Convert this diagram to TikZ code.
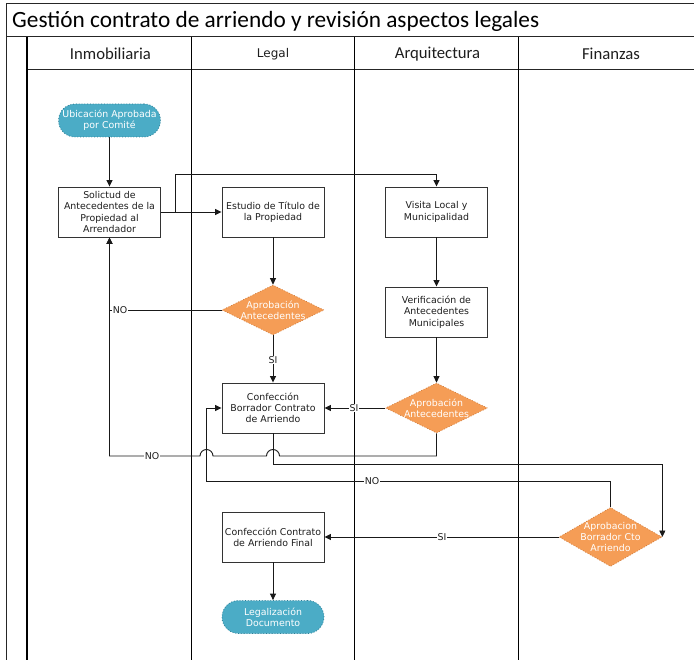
\documentclass[tikz,border=0pt]{standalone}
\usepackage{fontspec}
\setmainfont{DejaVu Sans}
\newfontfamily\headfont{Carlito}
\usetikzlibrary{shapes.geometric,arrows.meta}
\definecolor{termfill}{HTML}{4BACC6}
\definecolor{termedge}{HTML}{2E7E95}
\definecolor{decfill}{HTML}{F59D56}
\definecolor{decedge}{HTML}{C97434}
\definecolor{ink}{HTML}{1E1E1E}
\begin{document}
\begin{tikzpicture}[x=1pt,y=-1pt,
  frame/.style={draw=black!85, line width=1pt},
  lane/.style={draw=black, line width=1.1pt},
  boxfont/.style={font=\fontsize{9.4}{11.3}\selectfont},
  proc/.style={rectangle, draw=black!80, line width=0.9pt, fill=white,
    minimum width=102pt, minimum height=50pt, inner sep=1pt,
    align=center, boxfont, text=ink},
  term/.style={rectangle, rounded corners=16.5pt, draw=termedge, dotted,
    line width=0.8pt, fill=termfill, minimum width=102pt, minimum height=33pt,
    inner sep=1pt, align=center, boxfont, text=white},
  dec/.style={diamond, draw=decedge, dotted, line width=0.7pt, fill=decfill,
    minimum width=102pt, minimum height=50pt, inner sep=0pt},
  dectxt/.style={align=center, boxfont, text=white, inner sep=0pt},
  conn/.style={draw=black!90, line width=0.9pt,
    -{Triangle[length=6.5pt,width=6pt]}},
  lbl/.style={fill=white, inner sep=0.8pt, boxfont, text=ink},
  head/.style={font=\headfont\fontsize{16.7}{19}\selectfont, text=ink}]

% canvas
\fill[white] (0,0) rectangle (694,660);
\useasboundingbox (0,0) rectangle (694,660);

% pool frame, title band and lane header band
\draw[frame] (6,660) -- (6,4) -- (694,4);
\draw[frame] (6,37) -- (694,37);
\draw[frame] (27,70) -- (694,70);
\draw[lane] (27,37) -- (27,660);
\draw[lane] (191.5,37) -- (191.5,660);
\draw[lane] (354.5,37) -- (354.5,660);
\draw[lane] (518.5,37) -- (518.5,660);

\node[anchor=west, font=\headfont\fontsize{23.3}{27}\selectfont, text=black, inner sep=0pt]
  (title) at (12,21) {Gestión contrato de arriendo y revisión aspectos legales};

\node[head] (hInm) at (110.5,54) {Inmobiliaria};
\node[font=\fontsize{12}{14}\selectfont, text=ink] (hLeg) at (273,54) {Legal};
\node[head] (hArq) at (437.5,54) {Arquitectura};
\node[head] (hFin) at (611,54) {Finanzas};

% flow elements
\node[term] (ubic) at (109.5,120.5) {Ubicación Aprobada\\por Comité};
\node[proc] (sol) at (109.5,212) {Solictud de\\Antecedentes de la\\Propiedad al\\Arrendador};
\node[proc] (est) at (273,212) {Estudio de Título de\\la Propiedad};
\node[proc] (vis) at (436.5,212) {Visita Local y\\Municipalidad};
\node[proc] (ver) at (436.5,312) {Verificación de\\Antecedentes\\Municipales};

\node[dec] (dL) at (273,310) {};
\node[dectxt] (dLt) at (dL.center) {Aprobación\\Antecedentes};
\node[dec] (dA) at (436.5,408) {};
\node[dectxt] (dAt) at (dA.center) {Aprobación\\Antecedentes};

\node[proc] (cb) at (273,408) {Confección\\Borrador Contrato\\de Arriendo};

\node[dec, minimum width=103pt, minimum height=59pt] (dF) at (610.5,537) {};
\node[dectxt] (dFt) at (dF.center) {Aprobacion\\Borrador Cto\\Arriendo};

\node[proc] (fin) at (273,537) {Confección Contrato\\de Arriendo Final};
\node[term] (leg) at (273,617) {Legalización\\Documento};

% routing points
\coordinate (split) at (175,212);
\coordinate (topr) at (175,174);
\coordinate (rowA) at (0,456);
\coordinate (rowB) at (0,464);
\coordinate (rowC) at (0,481);
\coordinate (loopL) at (206.5,481);
\coordinate (hop1) at (273,456);
\coordinate (hop2) at (206.5,456);

% connectors
\draw[conn] (ubic) -- (sol);
\draw[conn] (sol) -- (est);
\draw[conn] (split) -- (topr) -| (vis.north);
\draw[conn] (est) -- (dL);
\draw[conn] (vis) -- (ver);
\draw[conn] (ver) -- (dA);
\draw[conn] (dL) -- (cb);
\draw[conn] (dA.west) -- (cb.east);
\draw[conn] (dL.west) -- (sol.south |- dL.west) -- (sol.south);
\draw[conn] (dA.south) -- (dA.south |- rowA) -- ([xshift=6.5pt]hop1)
  arc[start angle=0, end angle=180, radius=6.5pt] -- ([xshift=6.5pt]hop2)
  arc[start angle=0, end angle=180, radius=6.5pt] -- (sol.south |- rowA) -- (sol.south);
\draw[conn] (cb.south) -- (cb.south |- rowB) -| (dF.east);
\draw[conn] (dF.north) -- (dF.north |- rowC) -- (loopL) -- (loopL |- cb.west) -- (cb.west);
\draw[conn] (dF.west) -- (fin.east);
\draw[conn] (fin) -- (leg);

% branch labels
\node[lbl] (siL) at (273,360) {SI};
\node[lbl] (siA) at (354,408) {SI};
\node[lbl] (noL) at (120,310) {NO};
\node[lbl] (noA) at (152,456) {NO};
\node[lbl] (noF) at (372,481) {NO};
\node[lbl] (siF) at (442,537) {SI};
\end{tikzpicture}
\end{document}
